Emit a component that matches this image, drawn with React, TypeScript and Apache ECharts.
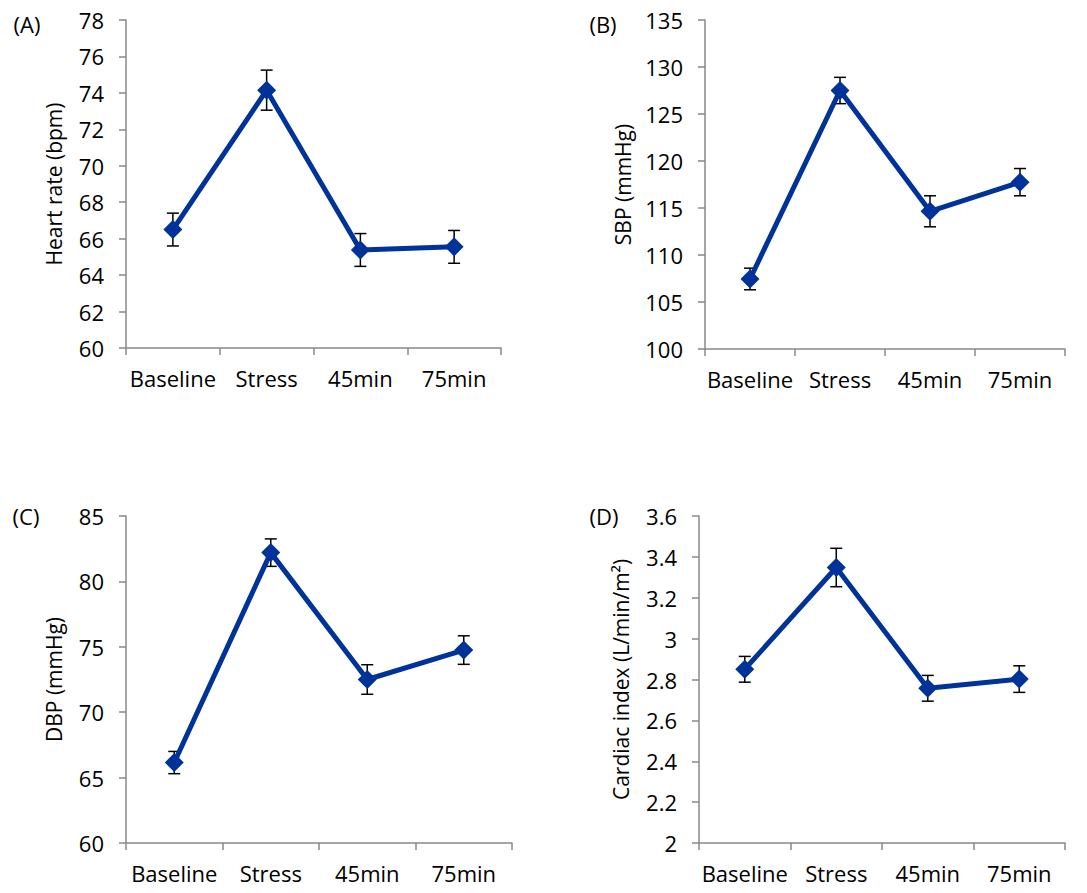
import React, { useEffect, useRef } from "react";
import * as echarts from "echarts";

const categories = ["Baseline", "Stress", "45min", "75min"];

const hrMean = [66.5, 74.15, 65.38, 65.55];
const hrErr = [0.9, 1.1, 0.9, 0.9];

const sbpMean = [107.45, 127.5, 114.65, 117.75];
const sbpErr = [1.15, 1.4, 1.65, 1.45];

const dbpMean = [66.15, 82.2, 72.5, 74.75];
const dbpErr = [0.85, 1.05, 1.13, 1.09];

const ciMean = [2.85, 3.348, 2.757, 2.802];
const ciErr = [0.063, 0.094, 0.063, 0.065];

const panelLabels = ["(A)", "(B)", "(C)", "(D)"];
const yNames = ["Heart rate (bpm)", "SBP (mmHg)", "DBP (mmHg)", "Cardiac index (L/min/m²)"];
const yMins = [60, 100, 60, 2];
const yMaxs = [78, 135, 85, 3.6];
const yIntervals = [2, 5, 5, 0.2];

const FONT = "'Open Sans', sans-serif";
const LINE_COLOR = "#003399";
const AXIS_COLOR = "#898989";

export default function App() {
  const ref = useRef<HTMLDivElement>(null);

  useEffect(() => {
    if (!ref.current) return;
    const chart = echarts.init(ref.current, undefined, { renderer: "svg" });

    const grids = [
      { left: 126, top: 20, width: 375, height: 328 },
      { left: 705, top: 20, width: 360, height: 329 },
      { left: 126, top: 516, width: 386, height: 327 },
      { left: 699, top: 516, width: 366, height: 327 },
    ];
    const nameGaps = [62, 72, 62, 68];
    const means = [hrMean, sbpMean, dbpMean, ciMean];
    const errs = [hrErr, sbpErr, dbpErr, ciErr];
    const labelPos = [
      [27, 24],
      [603, 24],
      [26, 516],
      [604, 516],
    ];

    const xAxis = grids.map((_, i) => ({
      type: "category",
      gridIndex: i,
      data: categories,
      boundaryGap: true,
      axisLine: { show: true, lineStyle: { color: AXIS_COLOR, width: 1.5 } },
      axisTick: { show: true, length: 7, alignWithLabel: false, interval: 0, lineStyle: { color: AXIS_COLOR, width: 1.5 } },
      axisLabel: { color: "#000", fontFamily: FONT, fontSize: 22, margin: 19, interval: 0 },
      splitLine: { show: false },
    }));

    const yAxis = grids.map((_, i) => ({
      type: "value",
      gridIndex: i,
      min: yMins[i],
      max: yMaxs[i],
      interval: yIntervals[i],
      name: yNames[i],
      nameLocation: "middle",
      nameGap: nameGaps[i],
      nameTextStyle: { color: "#000", fontFamily: FONT, fontSize: 21 },
      axisLine: { show: true, lineStyle: { color: AXIS_COLOR, width: 1.5 } },
      axisTick: { show: true, length: 7, lineStyle: { color: AXIS_COLOR, width: 1.5 } },
      axisLabel: {
        color: "#000",
        fontFamily: FONT,
        fontSize: 22,
        margin: 22,
        formatter: (v: number) => (yIntervals[i] < 1 ? String(Math.round(v * 10) / 10) : String(v)),
      },
      splitLine: { show: false },
    }));

    const series: any[] = [];
    means.forEach((m, i) => {
      series.push({
        type: "custom",
        xAxisIndex: i,
        yAxisIndex: i,
        z: 1,
        encode: { x: 0, y: [1, 2] },
        data: m.map((v, k) => [k, v - errs[i][k], v + errs[i][k]]),
        renderItem: (params: any, api: any) => {
          const idx = api.value(0);
          const lo = api.coord([idx, api.value(1)]);
          const hi = api.coord([idx, api.value(2)]);
          const cap = 6;
          const style = { stroke: "#000", lineWidth: 1.5 };
          return {
            type: "group",
            children: [
              { type: "line", shape: { x1: lo[0], y1: lo[1], x2: hi[0], y2: hi[1] }, style },
              { type: "line", shape: { x1: lo[0] - cap, y1: lo[1], x2: lo[0] + cap, y2: lo[1] }, style },
              { type: "line", shape: { x1: hi[0] - cap, y1: hi[1], x2: hi[0] + cap, y2: hi[1] }, style },
            ],
          };
        },
      });
      series.push({
        type: "line",
        xAxisIndex: i,
        yAxisIndex: i,
        z: 3,
        data: m,
        symbol: "diamond",
        symbolSize: 19,
        lineStyle: { color: LINE_COLOR, width: 5 },
        itemStyle: { color: LINE_COLOR },
      });
    });

    const graphic = panelLabels.map((t, i) => ({
      type: "text",
      x: labelPos[i][0],
      y: labelPos[i][1],
      style: {
        text: t,
        fill: "#000",
        font: `22px ${FONT}`,
        textAlign: "center",
        textVerticalAlign: "middle",
      },
    }));

    chart.setOption({
      animation: false,
      backgroundColor: "#fff",
      grid: grids,
      xAxis,
      yAxis,
      series,
      graphic,
    });

    return () => chart.dispose();
  }, []);

  return (
    <div
      ref={ref}
      style={{ position: "fixed", left: 0, top: 0, width: 1087, height: 893, background: "#fff" }}
    />
  );
}
